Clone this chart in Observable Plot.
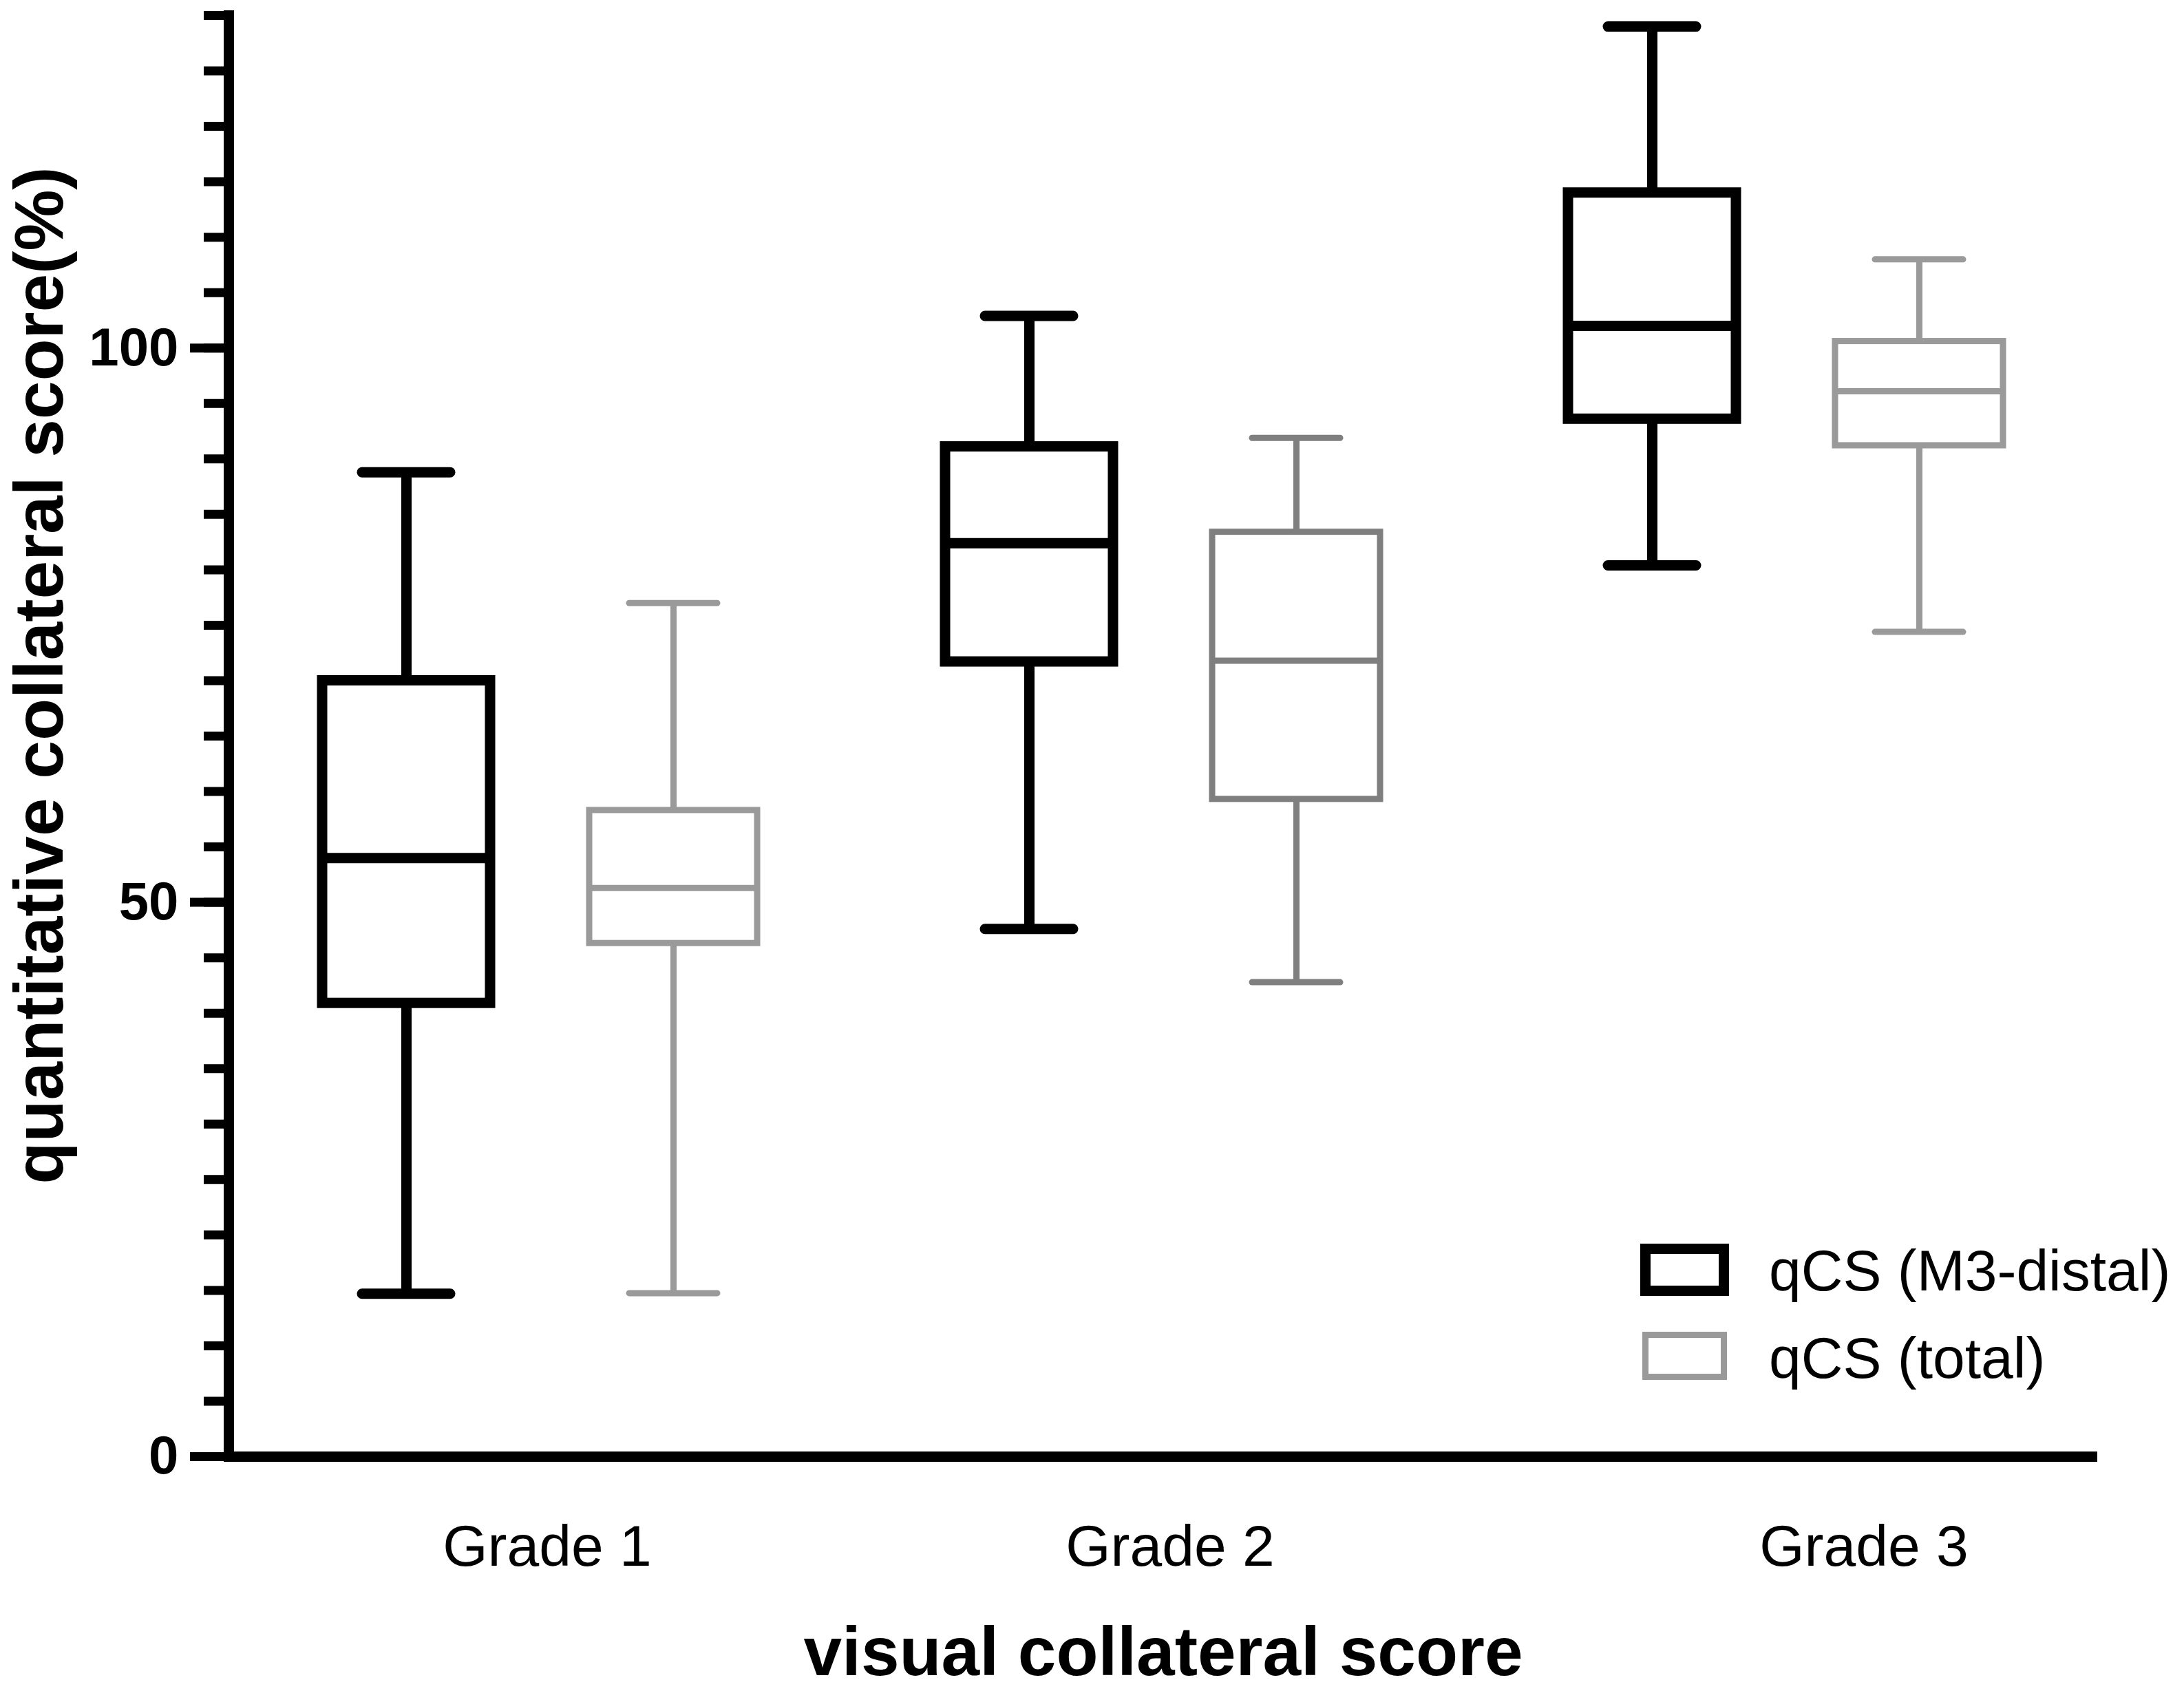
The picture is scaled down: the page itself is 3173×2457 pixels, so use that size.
<!DOCTYPE html>
<html>
<head>
<meta charset="utf-8">
<script src="https://cdn.jsdelivr.net/npm/d3@7"></script>
<script src="https://cdn.jsdelivr.net/npm/@observablehq/plot@0.6"></script>
<style>
  body { margin: 0; background: #fff; }
  #wrap { position: relative; width: 3173px; height: 2457px; font-family: "Liberation Sans", Arial, Helvetica, sans-serif; }
  #legend { position: absolute; left: 0; top: 0; pointer-events: none; }
</style>
</head>
<body>
<div id="wrap"></div>
<script>
// ---- data ----
const grades = ["Grade 1", "Grade 2", "Grade 3"];
const series = ["qCS (M3-distal)", "qCS (total)"];

const m3Min    = [14.7, 47.6, 80.4];
const m3Q1     = [40.9, 71.7, 93.6];
const m3Median = [54.0, 82.4, 102.0];
const m3Q3     = [70.0, 91.1, 114.0];
const m3Max    = [88.8, 102.9, 129.0];

const totalMin    = [14.75, 42.8, 74.4];
const totalQ1     = [46.3, 59.3, 91.2];
const totalMedian = [51.3, 71.8, 96.1];
const totalQ3     = [58.3, 83.4, 100.6];
const totalMax    = [77.0, 91.9, 108.0];

const yTicksMinor = d3.range(0, 131, 5);
const yTicksMajor = [0, 50, 100];

const xTitle = "visual collateral score";
const yTitle = "quantitative collateral score(%)";

// ---- build table ----
const boxes = [];
grades.forEach((g, i) => {
  boxes.push({grade: g, series: series[0], min: m3Min[i], q1: m3Q1[i], median: m3Median[i], q3: m3Q3[i], max: m3Max[i]});
  boxes.push({grade: g, series: series[1], min: totalMin[i], q1: totalQ1[i], median: totalMedian[i], q3: totalQ3[i], max: totalMax[i]});
});

const strokeOf = d => d.series === series[0] ? "#000000" : (d.grade === "Grade 2" ? "#7f7f7f" : "#9a9a9a");
const widthOf = d => d.series === series[0] ? 15 : 9;
const FONT = '"Liberation Sans", Arial, Helvetica, sans-serif';

const chart = Plot.plot({
  width: 3173,
  height: 2457,
  marginLeft: 332,
  marginRight: 126,
  marginTop: 22,
  marginBottom: 341,
  style: {fontFamily: FONT, background: "white", color: "black"},
  fx: {domain: grades, padding: 0, label: null},
  x: {type: "band", domain: series, paddingInner: 0.37, paddingOuter: 0.35, axis: null},
  y: {domain: [0, 130]},
  marks: [
    Plot.axisY({ticks: yTicksMinor, tickSize: 36, tickFormat: () => "", strokeWidth: 13, label: null}),
    Plot.axisY({ticks: yTicksMajor, tickSize: 56, tickPadding: 17, strokeWidth: 13, fontSize: 78, fontWeight: "bold", label: null}),
    Plot.frame({anchor: "left", strokeWidth: 15, facetAnchor: "left"}),
    Plot.ruleY([0], {strokeWidth: 15}),
    Plot.axisFx({ticks: grades.slice(0, 2), anchor: "bottom", tickSize: 0, tickPadding: 99, fontSize: 84, dx: 10, label: null}),
    Plot.axisFx({ticks: grades.slice(2), anchor: "bottom", tickSize: 0, tickPadding: 99, fontSize: 84, dx: 113, label: null}),
    Plot.axisFx({ticks: [], anchor: "bottom", tickSize: 0, label: xTitle, labelAnchor: "center", labelArrow: "none", labelOffset: 317, fontSize: 100, fontWeight: "bold"}),
    Plot.text([yTitle], {frameAnchor: "left", textAnchor: "middle", rotate: -90, dx: -274, dy: -88, fontSize: 100, fontWeight: "bold", fill: "black", facetAnchor: "left"}),
    Plot.ruleX(boxes, {fx: "grade", x: "series", y1: "min", y2: "max", stroke: strokeOf, strokeWidth: widthOf}),
    Plot.tickY(boxes, {fx: "grade", x: "series", y: "min", stroke: strokeOf, strokeWidth: widthOf, insetLeft: 58, insetRight: 58, strokeLinecap: "round"}),
    Plot.tickY(boxes, {fx: "grade", x: "series", y: "max", stroke: strokeOf, strokeWidth: widthOf, insetLeft: 58, insetRight: 58, strokeLinecap: "round"}),
    Plot.barY(boxes, {fx: "grade", x: "series", y1: "q1", y2: "q3", fill: "white", stroke: strokeOf, strokeWidth: widthOf}),
    Plot.tickY(boxes, {fx: "grade", x: "series", y: "median", stroke: strokeOf, strokeWidth: widthOf})
  ]
});

const wrap = document.getElementById("wrap");
wrap.appendChild(chart);

// ---- legend (inside plot area, bottom right) ----
const ns = "http://www.w3.org/2000/svg";
const leg = document.createElementNS(ns, "svg");
leg.setAttribute("id", "legend");
leg.setAttribute("width", 3173);
leg.setAttribute("height", 2457);
const legendItems = [
  {label: series[0], stroke: "#000000", sw: 15, ry: 1814.5, ty: 1875},
  {label: series[1], stroke: "#9a9a9a", sw: 9, ry: 1939.5, ty: 2002}
];
legendItems.forEach(it => {
  const r = document.createElementNS(ns, "rect");
  r.setAttribute("x", 2390.5); r.setAttribute("y", it.ry);
  r.setAttribute("width", 114); r.setAttribute("height", 61);
  r.setAttribute("fill", "white"); r.setAttribute("stroke", it.stroke); r.setAttribute("stroke-width", it.sw);
  leg.appendChild(r);
  const t = document.createElementNS(ns, "text");
  t.setAttribute("x", 2570); t.setAttribute("y", it.ty);
  t.setAttribute("font-size", 84); t.setAttribute("font-family", FONT); t.setAttribute("fill", "black");
  t.textContent = it.label;
  leg.appendChild(t);
});
wrap.appendChild(leg);
</script>
</body>
</html>
